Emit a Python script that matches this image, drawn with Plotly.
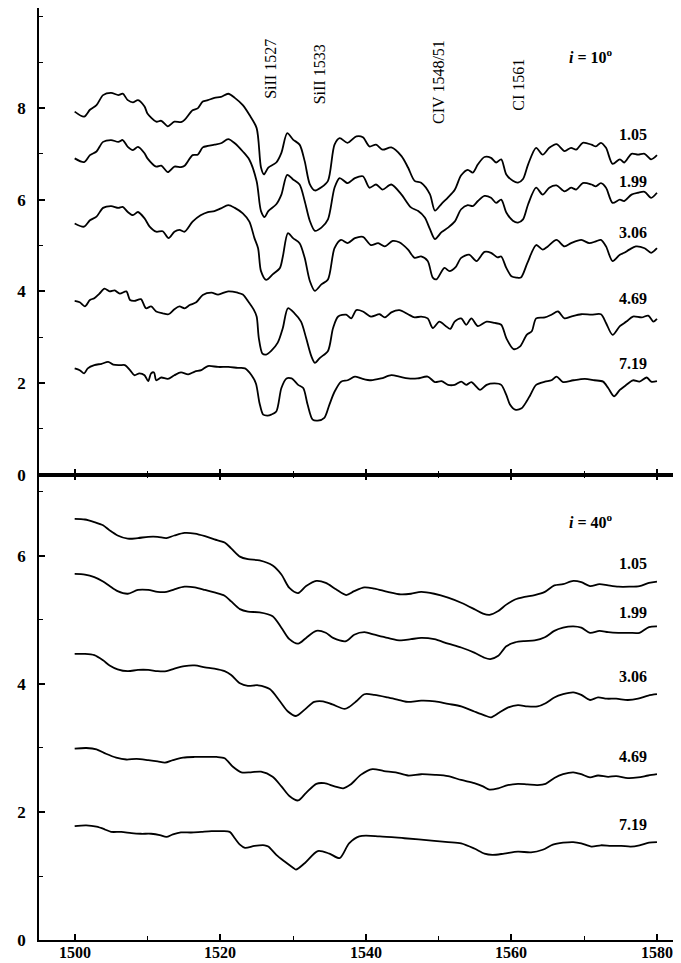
import plotly.graph_objects as go
from plotly.subplots import make_subplots

# ---------------- data (wavelength, flux + vertical offset) ----------------
top_labels = ["1.05", "1.99", "3.06", "4.69", "7.19"]
bot_labels = ["1.05", "1.99", "3.06", "4.69", "7.19"]

top_105 = [(1500,7.92),(1501.3,7.81),(1502.1,7.96),(1503,8.06),(1503.9,8.28),(1505,8.33),(1506,8.28),(1506.6,8.31),(1507.3,8.17),(1508,8.12),(1508.7,8.17),(1509.6,8.03),(1510,7.88),(1511.2,7.70),(1511.9,7.72),(1512.8,7.60),(1513.7,7.70),(1514.6,7.69),(1515.1,7.74),(1516.2,7.95),(1516.9,7.99),(1517.6,8.14),(1518.3,8.17),(1519.2,8.22),(1520.1,8.24),(1521.1,8.31),(1522,8.22),(1523.1,8.06),(1524,7.85),(1525,7.56),(1525.6,6.70),(1526,6.55),(1526.6,6.70),(1527.7,6.81),(1528.4,7.02),(1529.2,7.45),(1530,7.31),(1530.9,7.20),(1531.6,6.84),(1532.3,6.34),(1533,6.20),(1533.9,6.27),(1534.8,6.41),(1535.7,7.20),(1536.4,7.34),(1537.5,7.24),(1538.7,7.38),(1539.6,7.36),(1540.5,7.16),(1541.4,7.20),(1542.3,7.09),(1543.5,7.14),(1544.9,6.95),(1545.8,6.70),(1546.7,6.41),(1547.6,6.37),(1548.8,6.12),(1549.5,5.76),(1550.4,5.91),(1551.3,6.05),(1552.2,6.21),(1553.1,6.53),(1554,6.65),(1554.7,6.59),(1555.4,6.77),(1556.3,6.93),(1557.2,6.91),(1557.9,6.81),(1558.6,6.88),(1559.3,6.55),(1560.2,6.41),(1560.9,6.37),(1561.6,6.45),(1562.3,6.77),(1563.4,7.13),(1564.3,6.98),(1565.2,7.13),(1566.2,7.21),(1567.3,7.06),(1568.2,7.13),(1568.9,7.09),(1569.8,7.24),(1571,7.20),(1571.6,7.16),(1572.3,7.24),(1573,7.13),(1573.9,6.78),(1574.9,6.88),(1575.5,6.81),(1576.5,7.00),(1577.4,6.98),(1578.3,7.00),(1579.2,6.88),(1580,6.97)]

top_199 = [(1500,6.90),(1501.3,6.82),(1502.1,6.97),(1503,7.05),(1503.9,7.26),(1505,7.30),(1506,7.26),(1506.6,7.30),(1507.3,7.15),(1508,7.08),(1508.7,7.15),(1509.6,7.01),(1510,6.90),(1511.2,6.72),(1511.9,6.74),(1512.8,6.60),(1513.7,6.72),(1514.6,6.71),(1515.1,6.74),(1516.2,6.97),(1516.9,6.98),(1517.6,7.14),(1518.3,7.17),(1519.2,7.20),(1520.1,7.23),(1521.1,7.32),(1522,7.23),(1523.1,7.05),(1524,6.87),(1525,6.40),(1525.6,5.75),(1526.1,5.62),(1526.6,5.75),(1527.7,5.90),(1528.4,6.11),(1529.2,6.54),(1530,6.44),(1530.9,6.33),(1531.6,5.97),(1532.3,5.54),(1533,5.32),(1533.9,5.39),(1534.8,5.57),(1535.7,6.26),(1536.4,6.47),(1537.5,6.36),(1538.5,6.47),(1539.6,6.51),(1540.5,6.26),(1541.4,6.33),(1542.3,6.22),(1543.5,6.33),(1544.9,6.11),(1546.2,5.83),(1547.2,5.75),(1548.1,5.61),(1548.8,5.36),(1549.5,5.14),(1550.4,5.29),(1551.3,5.39),(1552.2,5.52),(1553.1,5.79),(1554,5.88),(1554.7,5.86),(1555.4,5.97),(1556.3,6.08),(1557.2,6.04),(1557.9,5.93),(1558.6,6.00),(1559.3,5.72),(1560.2,5.54),(1560.9,5.50),(1561.6,5.57),(1562.3,5.90),(1563.4,6.26),(1564.3,6.11),(1565.2,6.26),(1566.2,6.31),(1567.3,6.18),(1568.2,6.26),(1568.9,6.22),(1569.8,6.36),(1571,6.33),(1571.6,6.29),(1572.3,6.36),(1573,6.26),(1573.9,5.93),(1574.9,6.00),(1575.5,5.97),(1576.5,6.11),(1577.4,6.15),(1578.3,6.17),(1579.2,6.04),(1580,6.15)]

top_306 = [(1500,5.48),(1501.3,5.41),(1502.1,5.55),(1503,5.63),(1503.9,5.82),(1505,5.86),(1506,5.82),(1506.6,5.84),(1507.3,5.73),(1508,5.66),(1508.7,5.73),(1509.6,5.59),(1510.3,5.41),(1511.2,5.30),(1512.1,5.31),(1512.9,5.16),(1513.7,5.30),(1514.4,5.34),(1515.1,5.30),(1516.2,5.52),(1517.3,5.66),(1518.3,5.73),(1519.2,5.75),(1520.1,5.81),(1521.1,5.88),(1522,5.82),(1523.1,5.70),(1524,5.52),(1524.7,5.16),(1525.2,4.94),(1525.6,4.44),(1526.3,4.25),(1527.2,4.37),(1528.2,4.51),(1528.6,4.76),(1529.3,5.27),(1530,5.16),(1530.9,5.05),(1531.6,4.73),(1532.3,4.23),(1533,4.01),(1533.9,4.15),(1534.8,4.26),(1535.7,4.94),(1536.6,5.12),(1537.5,5.05),(1538.5,5.16),(1539.6,5.19),(1540.7,5.01),(1541.7,5.05),(1542.6,4.98),(1543.7,5.10),(1544.6,5.07),(1545.8,4.91),(1546.7,4.73),(1547.6,4.76),(1548.5,4.66),(1549.2,4.30),(1549.7,4.26),(1550.8,4.51),(1551.5,4.44),(1552.3,4.52),(1553.1,4.73),(1554.2,4.80),(1555.2,4.66),(1556.3,4.86),(1557.2,4.84),(1558.1,4.74),(1558.6,4.76),(1559.3,4.51),(1560,4.33),(1560.7,4.30),(1561.3,4.30),(1562.2,4.62),(1563.4,5.01),(1564.3,4.91),(1565,4.98),(1566.2,5.12),(1567.3,4.98),(1568.2,5.05),(1569.6,5.12),(1570.7,5.05),(1571.6,5.09),(1572.3,5.12),(1573,4.98),(1573.9,4.66),(1574.9,4.80),(1575.5,4.84),(1576.2,4.91),(1577.1,4.98),(1578.3,4.94),(1579.2,4.84),(1580,4.94)]

top_469 = [(1500,3.79),(1500.7,3.76),(1501.4,3.67),(1502.1,3.81),(1502.7,3.85),(1503.4,3.95),(1504.1,4.06),(1504.8,4.00),(1505.5,4.02),(1506.2,3.95),(1507.1,4.00),(1507.6,3.81),(1508.2,3.79),(1509.1,3.83),(1509.8,3.63),(1510.5,3.67),(1511.2,3.56),(1512.1,3.52),(1512.9,3.50),(1513.7,3.61),(1514.4,3.67),(1515.1,3.63),(1515.8,3.70),(1516.7,3.76),(1517.6,3.92),(1518.8,3.97),(1519.7,3.93),(1521.1,4.00),(1522.4,3.97),(1523.1,3.93),(1523.8,3.79),(1524.6,3.60),(1525,3.45),(1525.3,2.98),(1525.8,2.64),(1526.3,2.62),(1527,2.70),(1527.9,2.88),(1528.6,3.20),(1529.3,3.63),(1530.2,3.52),(1531.1,3.34),(1531.8,2.98),(1532.5,2.59),(1533,2.44),(1533.7,2.55),(1534.8,2.70),(1535.5,3.20),(1536.2,3.45),(1537.3,3.49),(1538,3.41),(1538.7,3.59),(1539.6,3.56),(1540.7,3.45),(1541.9,3.50),(1542.6,3.43),(1543.5,3.54),(1544.6,3.59),(1545.8,3.50),(1546.7,3.43),(1547.6,3.45),(1548.5,3.41),(1549.2,3.20),(1550.1,3.34),(1551,3.24),(1551.6,3.18),(1552.2,3.34),(1553.1,3.41),(1553.8,3.27),(1554.5,3.41),(1555.4,3.24),(1556.6,3.34),(1557.7,3.31),(1558.6,3.27),(1559.3,2.98),(1560.3,2.74),(1561.2,2.80),(1562.1,3.05),(1562.8,3.13),(1563.4,3.41),(1564.6,3.43),(1565.5,3.49),(1566.4,3.56),(1567.3,3.41),(1568.2,3.45),(1569.6,3.50),(1571,3.49),(1572.3,3.50),(1573,3.31),(1573.9,3.05),(1574.9,3.24),(1575.8,3.34),(1576.7,3.45),(1577.9,3.43),(1578.8,3.47),(1579.5,3.34),(1580,3.40)]

top_719 = [(1500,2.32),(1500.7,2.28),(1501.3,2.21),(1501.8,2.32),(1502.7,2.39),(1503.7,2.42),(1504.6,2.46),(1505.3,2.40),(1506.2,2.39),(1506.9,2.39),(1507.6,2.28),(1508.2,2.17),(1508.9,2.21),(1509.6,2.17),(1510.1,2.04),(1510.5,2.21),(1510.9,2.23),(1511.2,2.06),(1511.9,2.12),(1512.8,2.09),(1513.7,2.17),(1514.6,2.23),(1515.6,2.19),(1516.5,2.25),(1517.4,2.28),(1518.3,2.37),(1519.7,2.35),(1521.1,2.35),(1522.4,2.33),(1523.4,2.32),(1524.3,2.17),(1524.9,1.99),(1525.4,1.56),(1525.9,1.31),(1526.5,1.29),(1527,1.31),(1527.7,1.38),(1528.4,1.89),(1529.1,2.10),(1529.8,2.10),(1530.7,1.96),(1531.4,1.89),(1532,1.53),(1532.7,1.20),(1533.4,1.18),(1534.3,1.24),(1535,1.53),(1535.7,1.81),(1536.6,2.03),(1537.5,2.06),(1538.5,2.14),(1539.4,2.10),(1540.7,2.06),(1542.1,2.10),(1543.5,2.17),(1544.6,2.14),(1545.8,2.10),(1547.1,2.10),(1548.5,2.14),(1549.5,2.02),(1550.4,2.04),(1551.3,1.96),(1552.2,1.96),(1553.1,2.03),(1553.8,1.96),(1554.5,2.02),(1555.7,1.85),(1556.6,1.96),(1557.7,1.99),(1558.6,1.96),(1559.3,1.74),(1559.8,1.53),(1560.5,1.42),(1561.4,1.45),(1562.1,1.60),(1562.6,1.74),(1563.4,1.96),(1564.6,2.03),(1565.5,2.06),(1566.2,2.14),(1567.1,2.02),(1568.5,2.06),(1570.1,2.09),(1571.4,2.06),(1572.6,2.03),(1573.3,1.89),(1574.1,1.71),(1574.9,1.85),(1575.8,1.96),(1576.7,2.06),(1577.6,2.03),(1578.6,2.12),(1579.2,2.03),(1580,2.04)]

bot_105 = [(1500,6.58),(1501.4,6.57),(1502.7,6.53),(1503.9,6.48),(1504.8,6.40),(1505.9,6.32),(1507.3,6.27),(1508.7,6.28),(1510.1,6.30),(1511.4,6.30),(1512.6,6.28),(1513.7,6.32),(1515.1,6.36),(1516.5,6.35),(1517.9,6.31),(1519.2,6.26),(1520.6,6.21),(1521.5,6.12),(1522.7,5.99),(1523.8,5.95),(1525.4,5.93),(1527.2,5.85),(1528.4,5.71),(1529.5,5.50),(1530.7,5.42),(1531.8,5.53),(1533.2,5.61),(1534.5,5.58),(1535.9,5.48),(1537.3,5.39),(1538.4,5.45),(1539.8,5.51),(1541.2,5.49),(1543,5.44),(1544.8,5.40),(1546.2,5.41),(1547.6,5.44),(1549.4,5.41),(1551.3,5.35),(1553.1,5.27),(1554.9,5.17),(1556.1,5.10),(1557,5.08),(1558.2,5.14),(1559.3,5.24),(1560.5,5.32),(1561.8,5.36),(1563.2,5.39),(1564.6,5.44),(1565.9,5.54),(1567.1,5.56),(1568.5,5.61),(1569.6,5.59),(1570.8,5.53),(1572.1,5.56),(1573.3,5.54),(1574.7,5.52),(1576.2,5.52),(1577.6,5.53),(1578.9,5.58),(1580,5.60)]

bot_199 = [(1500,5.72),(1501.4,5.71),(1502.7,5.67),(1503.9,5.60),(1504.8,5.53),(1505.9,5.45),(1507.3,5.41),(1508.7,5.47),(1510.1,5.47),(1511.4,5.44),(1512.6,5.44),(1513.7,5.48),(1515.1,5.52),(1516.5,5.51),(1517.9,5.47),(1519.2,5.43),(1520.6,5.38),(1521.5,5.29),(1522.7,5.17),(1523.8,5.13),(1525.4,5.12),(1527.2,5.06),(1528.4,4.88),(1529.5,4.70),(1530.7,4.63),(1531.8,4.72),(1533.2,4.83),(1534.5,4.80),(1535.5,4.72),(1537.3,4.67),(1538.4,4.77),(1539.8,4.81),(1541.2,4.77),(1543,4.72),(1544.8,4.68),(1546.2,4.70),(1547.6,4.72),(1549.4,4.70),(1551.3,4.63),(1553.1,4.57),(1554.9,4.49),(1556.3,4.41),(1557.1,4.39),(1558.2,4.44),(1559.3,4.59),(1560.5,4.65),(1561.8,4.67),(1563.2,4.68),(1564.6,4.73),(1565.9,4.83),(1567.1,4.88),(1568.5,4.90),(1569.6,4.88),(1570.8,4.80),(1572.1,4.83),(1573.3,4.81),(1574.7,4.80),(1576.2,4.80),(1577.6,4.80),(1578.9,4.89),(1580,4.90)]

bot_306 = [(1500,4.47),(1501.4,4.47),(1502.7,4.45),(1503.9,4.37),(1504.8,4.29),(1505.9,4.23),(1507.3,4.20),(1508.7,4.22),(1510.1,4.22),(1511.4,4.20),(1512.6,4.20),(1513.7,4.24),(1515.1,4.28),(1516.5,4.29),(1517.9,4.26),(1519.2,4.24),(1520.6,4.20),(1521.5,4.14),(1522.7,4.01),(1523.8,3.97),(1525.2,3.98),(1526.8,3.92),(1528.2,3.73),(1529.3,3.57),(1530.4,3.50),(1531.6,3.60),(1532.9,3.72),(1534.1,3.73),(1535.4,3.68),(1537.1,3.61),(1537.7,3.64),(1538.7,3.73),(1539.8,3.84),(1541.2,3.83),(1543,3.79),(1544.9,3.74),(1545.8,3.72),(1547.6,3.74),(1549.5,3.73),(1551.3,3.69),(1553.1,3.65),(1554.9,3.57),(1556.3,3.51),(1557.2,3.48),(1558.3,3.55),(1559.5,3.63),(1560.9,3.67),(1562.2,3.65),(1563.6,3.65),(1564.7,3.70),(1565.9,3.79),(1567.1,3.84),(1568.5,3.87),(1569.6,3.83),(1570.8,3.75),(1571.9,3.79),(1573.1,3.77),(1574.4,3.77),(1576,3.75),(1577.4,3.77),(1578.8,3.82),(1580,3.84)]

bot_469 = [(1500,2.99),(1501.6,3.00),(1503,2.98),(1504.3,2.91),(1505.7,2.85),(1507.1,2.82),(1508.5,2.83),(1510.1,2.81),(1511.4,2.79),(1512.4,2.77),(1513.5,2.81),(1514.9,2.85),(1516.5,2.86),(1518.1,2.86),(1519.5,2.86),(1520.6,2.84),(1521.7,2.71),(1522.9,2.62),(1524.2,2.62),(1525.6,2.63),(1527.2,2.55),(1528.4,2.40),(1529.5,2.25),(1530.7,2.18),(1531.8,2.30),(1533.2,2.44),(1534.3,2.45),(1535.7,2.40),(1536.9,2.37),(1537.9,2.43),(1539.3,2.58),(1540.9,2.67),(1542.5,2.64),(1544.1,2.62),(1545.8,2.57),(1547.6,2.59),(1549.5,2.58),(1551.3,2.56),(1553.1,2.50),(1554.9,2.45),(1556.1,2.40),(1557,2.35),(1558.2,2.37),(1559.5,2.42),(1560.9,2.44),(1562.2,2.43),(1563.6,2.42),(1564.7,2.44),(1565.9,2.53),(1567.1,2.59),(1568.5,2.62),(1569.6,2.59),(1570.8,2.54),(1571.9,2.57),(1573.3,2.55),(1574.4,2.56),(1576,2.53),(1577.4,2.54),(1578.8,2.57),(1580,2.59)]

bot_719 = [(1500,1.78),(1501.6,1.79),(1503,1.77),(1504.1,1.73),(1505,1.69),(1506.4,1.69),(1507.8,1.67),(1509.1,1.66),(1510.5,1.66),(1511.7,1.64),(1512.6,1.61),(1513.5,1.65),(1514.6,1.68),(1516,1.68),(1517.4,1.69),(1518.8,1.70),(1520.1,1.70),(1521.3,1.69),(1522,1.59),(1522.7,1.49),(1523.4,1.44),(1524.7,1.47),(1526.1,1.48),(1526.6,1.46),(1527.7,1.33),(1528.8,1.23),(1530,1.13),(1530.4,1.10),(1531.6,1.20),(1533.4,1.39),(1535,1.35),(1536.4,1.28),(1537.7,1.51),(1539.1,1.62),(1541.9,1.62),(1545.3,1.59),(1549.4,1.55),(1551.3,1.53),(1553.1,1.51),(1554.9,1.43),(1556.3,1.35),(1557.4,1.33),(1559,1.35),(1560.9,1.38),(1562.7,1.37),(1564.3,1.41),(1565.7,1.49),(1567.1,1.52),(1568.5,1.53),(1569.6,1.51),(1571,1.46),(1572.3,1.48),(1573.7,1.47),(1575.1,1.47),(1576.4,1.46),(1577.6,1.48),(1578.9,1.52),(1580,1.53)]

top_series = [top_105, top_199, top_306, top_469, top_719]
bot_series = [bot_105, bot_199, bot_306, bot_469, bot_719]
top_label_y = [7.41, 6.40, 5.29, 3.84, 2.42]
bot_label_y = [5.89, 5.11, 4.12, 2.87, 1.81]

line_names = ["SiII 1527", "SiII 1533", "CIV 1548/51", "CI 1561"]
line_pos = [1526.8, 1533.6, 1550.0, 1561.0]
line_text_bottom = [8.15, 8.04, 7.60, 7.89]

x_ticks = [1500, 1520, 1540, 1560, 1580]
x_tick_text = ["1500", "1520", "1540", "1560", "1580"]
x_minor = [1510, 1530, 1550, 1570]

# ---------------- figure ----------------
FONT = "Liberation Serif"
SPLIT = 1 - 466.7 / 932   # top panel = first 466.7 px of the 932 px plot height
fig = make_subplots(rows=2, cols=1, shared_xaxes=True, vertical_spacing=0)

line_style = dict(color="black", width=1.8, shape="spline", smoothing=0.8)
for s in top_series:
    fig.add_trace(go.Scatter(x=[p[0] for p in s], y=[p[1] for p in s], mode="lines",
                             line=line_style, showlegend=False, hoverinfo="skip"), row=1, col=1)
for s in bot_series:
    fig.add_trace(go.Scatter(x=[p[0] for p in s], y=[p[1] for p in s], mode="lines",
                             line=line_style, showlegend=False, hoverinfo="skip"), row=2, col=1)

num_font = dict(family=FONT, size=16, color="black", weight="bold")
tick_font = dict(family=FONT, size=17, color="black", weight="bold")
ann = []
for lab, yv in zip(top_labels, top_label_y):
    ann.append(dict(x=1576.7, y=yv, xref="x", yref="y", text=lab, showarrow=False, font=num_font))
for lab, yv in zip(bot_labels, bot_label_y):
    ann.append(dict(x=1576.7, y=yv, xref="x2", yref="y2", text=lab, showarrow=False, font=num_font))
for name, xp, yp in zip(line_names, line_pos, line_text_bottom):
    ann.append(dict(x=xp, y=yp, xref="x", yref="y", text=name, textangle=-90, showarrow=False,
                    yanchor="bottom", font=dict(family=FONT, size=16, color="black")))
ann.append(dict(x=1571.0, y=9.13, xref="x", yref="y", text="<i>i</i> = 10<sup>o</sup>",
                showarrow=False, font=num_font))
ann.append(dict(x=1571.0, y=6.54, xref="x2", yref="y2", text="<i>i</i> = 40<sup>o</sup>",
                showarrow=False, font=num_font))
# wavelength tick labels placed just under the bottom axis
for xv, tx in zip(x_ticks, x_tick_text):
    ann.append(dict(x=xv, y=0, xref="x2", yref="paper", text=tx, showarrow=False,
                    yanchor="top", yshift=-3, borderpad=0,
                    font=dict(family=FONT, size=16, color="black", weight="bold")))

xr = [1495.1, 1584.4]
axis_common = dict(showline=True, linecolor="black", linewidth=1.5, showgrid=False,
                   zeroline=False, color="black")
fig.update_layout(
    width=681, height=963,
    margin=dict(l=31, r=0, t=0, b=31),
    paper_bgcolor="white", plot_bgcolor="white",
    annotations=ann,
    font=dict(family=FONT, color="black"),
)
fig.update_xaxes(range=xr, tickvals=x_ticks, ticks="inside", ticklen=6, tickwidth=1.5,
                 tickcolor="black", showticklabels=False,
                 minor=dict(ticks="inside", ticklen=4, tickwidth=1.2, tickcolor="black", tickvals=x_minor),
                 **axis_common)
fig.update_xaxes(mirror="ticks", row=2, col=1)
fig.update_yaxes(ticks="inside", ticklen=6, tickwidth=1.5, tickcolor="black",
                 tickfont=tick_font, ticklabelstandoff=8,
                 minor=dict(ticks="inside", ticklen=4, tickwidth=1.2, tickcolor="black", dtick=1),
                 **axis_common)
fig.update_yaxes(range=[0, 10.18], tickvals=[0, 2, 4, 6, 8], domain=[SPLIT, 1], row=1, col=1)
fig.update_yaxes(range=[0, 7.27], tickvals=[0, 2, 4, 6], domain=[0, SPLIT], row=2, col=1)

fig.write_html("out.html")
